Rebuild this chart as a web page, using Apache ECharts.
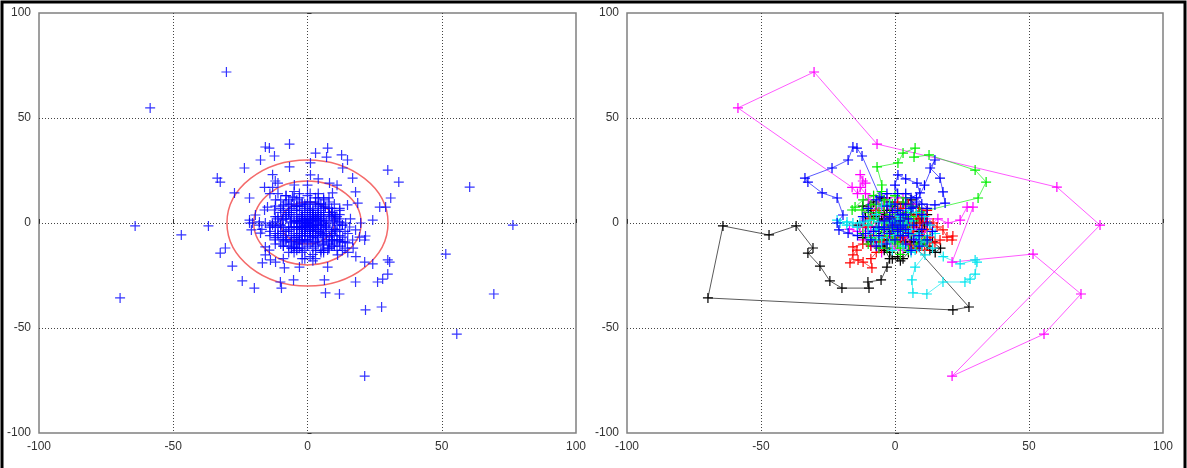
<!DOCTYPE html>
<html>
<head>
<meta charset="utf-8">
<script src="https://cdn.jsdelivr.net/npm/echarts@6/dist/echarts.min.js"></script>
</head>
<body style="margin:0;background:#fff">
<div id="container" style="width:1187px;height:468px"></div>
<script type="text/javascript">
// trajectories (right panel); left panel shows every point of all of them
const magenta = [[0,0],[3,2],[5,4],[2,6],[4,8],[1,10],[-1,7],[2,-2],[-1,2],[-3,0],[-2,4],[-5,3],[-4,6],[-7,5],[-6,9],[-9,8],[-10,11],[-8,13],[-11,14],[-13,17],
  [-12,20],[-13,23],[-11,19],[-14,14],[-16,17],
  [-58.6,54.8],[-30.2,71.9],[-6.7,37.6],[60.4,17.1],[76.5,-1],[21.3,-72.9],[55.6,-52.9],[69.4,-33.8],[51.5,-14.8],[21.3,-18.6],[29.1,7.6],[26.9,7.6],[24.3,1.4],[19.8,0],
  [16,2],[13,-1],[10,1],[7,-2],[5,1],[3,-3],[1,-6],[-2,-5],[-4,-7],[-6,-9],[-4,-10],[-6,-12],[-8,-8],[-11,-6],[-14,-4],[-17,-3],[-13,-1],[-9,-2],[-6,0],[-3,-2],
  [-1,-1],[-2,-8],[0,-11],[2,-9],[4,-7],[6,-5],[8,-3],[6,0],[3,3],[1,1],
  [-8,4],[-11,2],[-12,-2],[-9,-4],[-12,-8],[-9,-11],[-5,-14],[-2,-12],[3,-13],[6,-10],[9,-8],[11,-4],[12,2],[9,5],[6,9],[3,12],[-3,12],[-6,7]];
const black = [[0,0],[-2,2],[-4,4],[-7,5],[-8,3],[-9,6],[-6,2],[-3,1],[0,3],[2,1],[4,3],[6,5],[8,4],[10,2],[8,0],[5,-2],[3,-4],[1,-2],[-1,-5],[-3,-8],[-5,-11],
  [-4,-13],[-2,-14],[-1,-17],[1,-16],[2,-18],[3,-17],[5,-14],[6,-9],[8,-9],[10,-10],[12,-11],[13,-13],[15,-14],[17,-12],[14,-9],[11,-8],[8,-12],
  [27.6,-40],[21.6,-41.4],[-69.8,-35.7],[-64.2,-1.4],[-47,-5.7],[-36.9,-1.4],[-30.6,-11.9],[-32.5,-14.3],[-28,-20.5],[-24.3,-27.6],[-19.8,-31],[-9.7,-31],
  [-10.1,-28.1],[-5.2,-27.1],[-3,-21],[-2,-17],[-4,-12],[-3,-8],[-1,-4],[1,1],[3,3],[1,5],[-1,8],[-3,6],[-5,1],[-7,-2],[-5,-5],[-2,-3],[0,-1],
  [-9,-9],[-12,-7],[-14,-1],[-11,3],[-12,8],[-8,10],[-5,12],[-2,10],[3,9],[6,11],[9,7],[12,4],[11,-1],[9,-4],[6,-6],[3,-9]];
const red = [[0,0],[2,3],[4,5],[2,7],[0,5],[-2,3],[-4,1],[-3,-2],[-2,-3],[-1,-6],[-3,-9],[-5,-12],[-7,-14],[-9,-17],[-8.6,-21.4],[-11.9,-18.6],[-13.8,-17.6],
  [-16.8,-19],[-15.7,-15.2],[-14.2,-12.9],[-15.7,-11.4],[-12,-10],[-9,-11],[-6,-9],[-4,-6],[-2,-2],[1,-1],[3,2],[5,0],[6.7,-1.9],[8.2,3.8],[10.4,2.9],[9.3,0],
  [11.9,0.5],[14.2,0],[15.7,-1.9],[17.9,-3.3],[19.4,-6.7],[21.6,-6.2],[21.3,-8.1],[16.8,-8.1],[14.9,-9.5],[13.1,-6.7],[10.4,-3.3],[7,-6],[4.9,-4.3],[3.7,-8.1],
  [5.6,-10.5],[2,-7],[1,-4],[-1,-2],[-2,1],[0,2],[2,-3],[4,-1],[6,2],[3,-6],[0,-8],[-2,-6],
  [8,-12],[11,-13],[13,-9],[10,-6],[12,-3],[9,3],[12,6],[8,7],[5,9],[1,10],[-4,8],[-7,6],[-9,2],[-11,-2],[-8,-6]];
const green = [[0,0],[2,2],[4,5],[6,8],[3,10],[1,6],[-1,-3],[1,-6],[0,-9],[2,-12],[1,-10],[-1,-5],[-2,-2],[-1,1],[-2,4],[-1,9],[-4,8],[-6,5],[-9,8.6],[-12.3,6.2],
  [-16,6.2],[-14.9,7.6],[-11.9,11],[-8,13],[-5,15],[-4.9,18.1],[-6.7,26.7],[1.1,28.6],[3,33.3],[7.5,35.7],[7.1,31.4],[12.7,32.4],[29.9,25.2],[34,19.5],[31,11.9],
  [9.3,5.2],[6,3],[4,1],[2,-1],[3,-4],[0,-2],[-3,0],[-5,-2],[-7,-4],[-9,-7],[-6,-8],[-3,-6],[-1,-8],[1,-4],[3,0],[5,-1],[7,1],
  [9,-5],[11,-8],[8,-10],[5,-13],[2,-15],[-3,-12],[-6,-12],[-10,-10],[-12,-5],[-10,-1],[-8,2],[-10,5],[-7,9],[-4,11],[0,13],[4,12]];
const cyan = [[0,0],[2,3],[0,5],[-2,1],[-4,0],[-6.3,0.5],[-9.3,1.4],[-11.9,0.5],[-13.1,0],[-15.7,0],[-17.9,0.5],[-20.5,0],[-21.6,1.4],[-18,-1],[-14,-2],[-10,-1],
  [-7,-3],[-4,-2],[-1,-3],[2,-2],[4,-4],[5.6,-5.7],[8.2,-6.7],[9.3,-8.1],[7.5,-12.9],[11.2,-15.2],[7.5,-21],[6.3,-27.1],[6.7,-33.3],[11.9,-33.8],[17.9,-28.1],
  [26.1,-28.1],[28,-26.7],[29.9,-24.3],[30.6,-18.6],[29.9,-17.6],[24.3,-19.5],[18,-16],[14,-12],[12,-9],[9,-5],[6,-3],[3,0],[1,2],[-1,0],[-3,-5],[-5,-7],[-2,-9],
  [0,-6],[2,-5],[4,-1],[6,1],[2,4],
  [5,6],[8,5],[11,3],[13,-1],[15,-5],[12,-6],[10,-11],[6,-14],[3,-11],[-1,-13],[-5,-10],[-8,-8],[-10,-5],[-7,4],[-5,8],[-2,9]];
const blue = [[0,0],[-2,3],[-4,1],[-1,-2],[2,-2],[4,-3],[3,-6],[1,-4],[-2,-5],[-4,-3],[-6,-2],[-8,-4],[-11,-5],[-14,-6],[-17.5,-4.8],[-20.9,-3.3],[-21.6,0],
  [-19.4,3.8],[-21.6,11.9],[-27.2,14.3],[-32.5,19.5],[-33.6,21.4],[-23.5,26.2],[-17.5,30],[-15.7,36.2],[-14.2,35.7],[-12.3,31.9],[-5.6,12.4],[-3,8],[-1,5],[0,9],
  [1,14],[0,18],[1.1,22.9],[4,21],[8.2,19],[9.3,14.3],[6,12],[4,9],[1,6],[3,4],[6,7],[8,10],[11,18],[14.9,30],[13.1,26.2],[16.8,21.4],[17.9,14.8],[18.7,9.5],
  [14.9,8.6],[10,9],[6.7,7.6],[4,4],[2,1],[-1,-1],[1,-3],[3,-1],[5,-5],[7,-8],[9,-6],[10,-3],[7,-1],[5,2],[2,4],[-2,2],[-4,-2],[-6,-6],[-3,-10],[0,-8],[2,-6],
  [4,-10],[6,-13],[9,-11],[12,-8],[14,-4],[12,0],[10,4],[12,7],[8,12],[4,14],[-3,14],[-7,11],[-10,7],[-12,3],[-9,-8],[-7,-11]];
const ringRadii = [10, 20, 30];

const trajectories = [
  {data: magenta, color: '#ff00ff'},
  {data: black, color: '#000000'},
  {data: red, color: '#ff0000'},
  {data: green, color: '#00ee00'},
  {data: cyan, color: '#00e5ee'},
  {data: blue, color: '#0000ff'}
];
const allPoints = [].concat(magenta, black, red, green, cyan, blue);

const plus = 'path://M0,5L10,5M5,0L5,10';
const dom = document.getElementById('container');
const myChart = echarts.init(dom);

function axis(idx) {
  return {
    type: 'value', gridIndex: idx, min: -100, max: 100, interval: 50,
    axisLine: {show: false},
    axisTick: {show: true, inside: true, length: 4, lineStyle: {color: '#333'}},
    axisLabel: {color: '#333', fontSize: 12, fontFamily: 'Liberation Sans, Arial', margin: 8},
    splitLine: {show: true, showMinLine: false, showMaxLine: false,
      lineStyle: {color: '#444', width: 1, type: [1, 2]}}
  };
}

const series = [
  {
    type: 'custom', xAxisIndex: 0, yAxisIndex: 0, z: 1,
    data: ringRadii.map(r => [0, 0, r]),
    encode: {x: 0, y: 1},
    renderItem: function (params, api) {
      const c = api.coord([api.value(0), api.value(1)]);
      const s = api.size([api.value(2), api.value(2)]);
      return {type: 'ellipse', shape: {cx: c[0], cy: c[1], rx: s[0], ry: s[1]},
        style: {fill: null, stroke: '#f46a6a', lineWidth: 1.5}};
    }
  },
  {
    type: 'scatter', xAxisIndex: 0, yAxisIndex: 0, z: 2,
    data: allPoints, symbol: plus, symbolSize: 10,
    itemStyle: {color: '#0000ff', borderColor: '#0000ff', borderWidth: 1.2}
  }
];
trajectories.forEach(t => {
  series.push({
    type: 'line', xAxisIndex: 1, yAxisIndex: 1, data: t.data,
    symbol: plus, symbolSize: 10, showSymbol: true,
    lineStyle: {color: t.color, width: 1, opacity: 0.65},
    itemStyle: {color: t.color, borderColor: t.color, borderWidth: 1.2},
    animation: false
  });
});

const option = {
  animation: false,
  grid: [
    {left: 39, top: 13, width: 537, height: 420, show: true, borderColor: '#808080', borderWidth: 1.5},
    {left: 627, top: 13, width: 536, height: 420, show: true, borderColor: '#808080', borderWidth: 1.5}
  ],
  xAxis: [axis(0), axis(1)],
  yAxis: [axis(0), axis(1)],
  graphic: [{
    type: 'polyline', silent: true,
    shape: {points: [[2, 470], [2, 2], [1185, 2], [1185, 470]]},
    style: {stroke: '#000', lineWidth: 3, fill: null}
  }],
  series: series
};
myChart.setOption(option);
</script>
</body>
</html>
